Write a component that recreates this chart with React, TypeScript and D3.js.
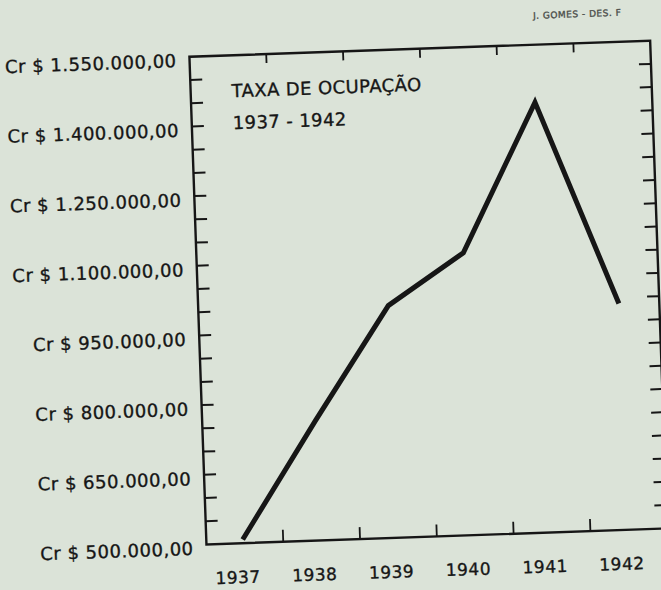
import React from 'react';
import * as d3 from 'd3';

const years = ['1937', '1938', '1939', '1940', '1941', '1942'];
const taxa = [508000, 758000, 1000000, 1108000, 1426000, 987000];
const yLabelValues = [500000, 650000, 800000, 950000, 1100000, 1250000, 1400000, 1550000];
const title = ['TAXA DE OCUPAÇÃO', '1937 - 1942'];
const stamp = 'J. GOMES - DES. F';

const width = 661;
const height = 590;
const left = 198;
const right = 659;
const top = 52;
const bottom = 540;

const ptBR = d3.formatLocale({
  decimal: ',',
  thousands: '.',
  grouping: [3],
  currency: ['Cr $ ', ''],
});
const fmt = ptBR.format('$,.2f');

const ink = '#161616';
const font = 'DejaVu Sans, sans-serif';

const App = () => {
  const x = d3.scaleBand().domain(years).range([left, right]);
  const y = d3.scaleLinear().domain([500000, 1550000]).range([bottom, top]);

  const minorTicks = d3.range(550000, 1550000, 50000);
  const bandEdges = years.slice(1).map(d => x(d)!);

  // points sit a little left of the band centres in the drawing
  const cx = (d: string) => x(d)! + x.bandwidth() / 2 - 2;

  const line = d3
    .line<number>()
    .x((_, i) => cx(years[i]))
    .y(d => y(d));

  const textProps = {
    fontFamily: font,
    fill: ink,
    stroke: ink,
    strokeWidth: 0.35,
  };

  return (
    <svg
      width={width}
      height={height}
      style={{ position: 'fixed', left: 0, top: 0 }}
    >
      <rect width={width} height={height} fill="#dbe3d8" />
      <g transform="rotate(-2 330 300)">
        <text x={587} y={26} fontSize={9} textAnchor="middle" letterSpacing={0.5} opacity={0.75} {...textProps}>
          {stamp}
        </text>

        {/* frame */}
        <rect
          x={left}
          y={top}
          width={right - left}
          height={bottom - top}
          fill="none"
          stroke={ink}
          strokeWidth={2.4}
        />

        {/* left and right ticks */}
        {minorTicks.map(v => (
          <g key={v}>
            <line x1={left} x2={left + 12} y1={y(v)} y2={y(v)} stroke={ink} strokeWidth={2} />
            <line x1={right - 12} x2={right} y1={y(v)} y2={y(v)} stroke={ink} strokeWidth={2} />
          </g>
        ))}

        {/* top and bottom ticks */}
        {bandEdges.map((e, i) => (
          <g key={i}>
            <line x1={e} x2={e} y1={top} y2={top + 9} stroke={ink} strokeWidth={1.8} />
            <line x1={e} x2={e} y1={bottom} y2={bottom - 12} stroke={ink} strokeWidth={1.8} />
          </g>
        ))}

        {/* y labels */}
        {yLabelValues.map(v => (
          <text
            key={v}
            x={185}
            y={y(v) + 5}
            textAnchor="end"
            dominantBaseline="middle"
            fontSize={18}
            letterSpacing={0.5}
            {...textProps}
          >
            {fmt(v)}
          </text>
        ))}

        {/* x labels */}
        {years.map(d => (
          <text
            key={d}
            x={cx(d) - 6}
            y={575}
            textAnchor="middle"
            dominantBaseline="middle"
            fontSize={17}
            letterSpacing={0.5}
            {...textProps}
          >
            {d}
          </text>
        ))}

        {/* title */}
        {title.map((t, i) => (
          <text
            key={t}
            x={239}
            y={89 + i * 32}
            dominantBaseline="middle"
            fontSize={18}
            letterSpacing={0.4}
            {...textProps}
          >
            {t}
          </text>
        ))}

        <path
          d={line(taxa)!}
          fill="none"
          stroke={ink}
          strokeWidth={5}
          strokeLinejoin="miter"
          strokeLinecap="butt"
        />
      </g>
    </svg>
  );
};

export default App;
